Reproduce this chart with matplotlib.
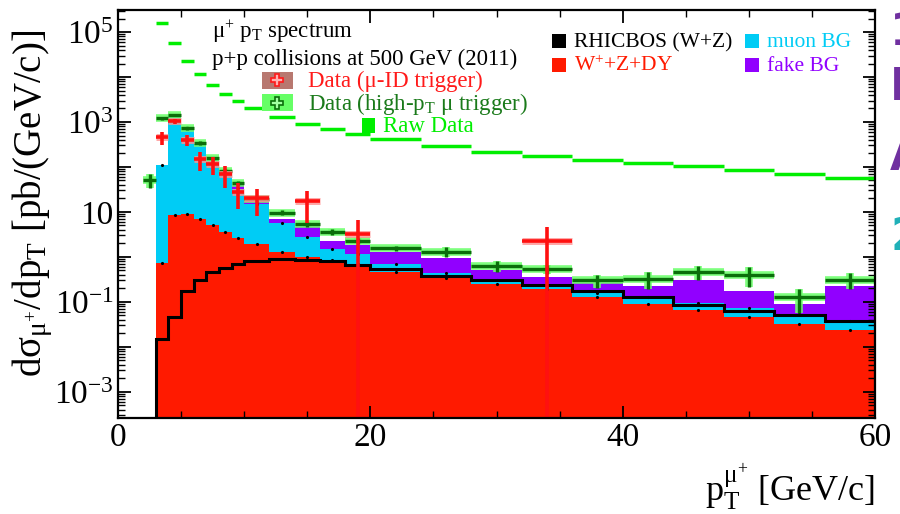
import numpy as np
import matplotlib
matplotlib.use("Agg")
import matplotlib.pyplot as plt
from matplotlib.patches import Rectangle
from matplotlib.lines import Line2D
from matplotlib.ticker import LogLocator, MultipleLocator, NullFormatter, FixedLocator

plt.rcParams["font.family"] = ["Liberation Serif", "DejaVu Serif"]
plt.rcParams["mathtext.fontset"] = "custom"
plt.rcParams["mathtext.rm"] = "Liberation Serif"
plt.rcParams["mathtext.it"] = "Liberation Serif:italic"
plt.rcParams["mathtext.bf"] = "Liberation Serif:bold"
plt.rcParams["mathtext.default"] = "rm"

# Histogram bin edges (GeV/c)
edges = [3, 4, 5, 6, 7, 8, 9, 10, 12, 14, 16, 18, 20, 24, 28, 32, 36, 40, 44, 48, 52, 56, 60]

# Stack levels (cumulative tops): W+Z+DY, +muon BG, +fake BG
wzdy = [0.74, 8.5, 9.1, 6.9, 5.0, 3.5, 2.6, 1.9, 1.25, 1.0, 0.85, 0.69, 0.47, 0.34,
        0.25, 0.19, 0.13, 0.091, 0.065, 0.047, 0.032, 0.023]
wzdy_muon = [110, 1450, 760, 350, 160, 83, 33, 15, 5.8, 2.7, 1.5, 1.15, 0.69, 0.44,
             0.31, 0.22, 0.16, 0.13, 0.093, 0.074, 0.053, 0.038]
wzdy_muon_fake = [110, 1450, 760, 350, 160, 83, 39, 20, 6.9, 4.5, 2.3, 1.8, 1.3, 0.93,
                  0.50, 0.35, 0.26, 0.23, 0.31, 0.17, 0.091, 0.23]
rhicbos = [0.015, 0.047, 0.17, 0.31, 0.46, 0.56, 0.69, 0.81, 0.89, 0.85, 0.81, 0.66,
           0.54, 0.38, 0.31, 0.24, 0.17, 0.126, 0.083, 0.064, 0.051, 0.037]
raw_data = [1.6e5, 5.6e4, 2.3e4, 1.15e4, 6.5e3, 4.1e3, 2.9e3, 2.0e3, 1.27e3, 890, 690,
            535, 415, 295, 218, 178, 141, 123, 105, 85, 69, 56]

# Data, high-pT muon trigger
hipt_edges = [2] + edges
hipt_val = [51, 1200, 1440, 720, 345, 155, 81, 44, 19.5, 9.6, 5.4, 3.6, 2.3, 1.55, 1.3,
            0.63, 0.54, 0.30, 0.32, 0.47, 0.40, 0.126, 0.31]
hipt_err = [17, 90, 100, 60, 30, 14, 9, 5, 2.5, 1.2, 0.7, 0.5, 0.35, 0.23, 0.32, 0.16,
            0.13, 0.10, 0.13, 0.16, 0.19, 0.07, 0.12]

# Data, muon-ID trigger
muid_lo = [3, 4, 5, 6, 7, 8, 9, 10, 14, 18, 32]
muid_hi = [4, 5, 6, 7, 8, 9, 10, 12, 16, 20, 36]
muid_val = [460, 1040, 400, 150, 115, 69, 27.5, 20, 17.5, 3.2, 2.2]
muid_err = [145, 150, 115, 70, 50, 35, 16, 12, 11.7, 3.4, 2.3]

C_RED = "#ff1a00"
C_CYAN = "#00ccf5"
C_PURPLE = "#9100ff"
C_DKGREEN = "#0a6e0a"
C_LTGREEN = "#70ff70"
C_RAW = "#00ee00"

W, H = 900, 514
fig = plt.figure(figsize=(9, 5.14), dpi=100)
ax = fig.add_axes([118 / W, 1 - 418 / H, 757 / W, 408 / H])

ymin, ymax = 2.6e-4, 3.1e5
base = 1e-6
ax.stairs(wzdy_muon_fake, edges, fill=True, color=C_PURPLE, baseline=base, lw=0)
ax.stairs(wzdy_muon, edges, fill=True, color=C_CYAN, baseline=base, lw=0)
ax.stairs(wzdy, edges, fill=True, color=C_RED, baseline=base, lw=0)

centers = 0.5 * (np.array(edges[:-1]) + np.array(edges[1:]))
ax.plot(centers, wzdy, "k.", ms=2.5)
ax.plot(centers, wzdy_muon, "k.", ms=2.5)

ax.stairs(rhicbos, edges, baseline=base, color="black", lw=2.2)

# raw data: horizontal bars
ax.hlines(raw_data, edges[:-1], edges[1:], color=C_RAW, lw=2.5)

# high-pT trigger data
he = np.array(hipt_edges, dtype=float)
hx = 0.5 * (he[:-1] + he[1:])
hw = 0.5 * (he[1:] - he[:-1])
ax.errorbar(hx, hipt_val, xerr=hw, yerr=hipt_err, fmt="none", ecolor=C_LTGREEN,
            elinewidth=5.5, capsize=0, alpha=0.9)
ax.errorbar(hx, hipt_val, xerr=hw, yerr=hipt_err, fmt="none", ecolor=C_DKGREEN,
            elinewidth=2.4, capsize=0)

# muon-ID trigger data
lo = np.array(muid_lo, dtype=float)
hi = np.array(muid_hi, dtype=float)
mx = 0.5 * (lo + hi)
ax.errorbar(mx, muid_val, xerr=0.5 * (hi - lo), fmt="none",
            ecolor="#ff9090", elinewidth=5, capsize=0, alpha=0.8)
ax.errorbar(mx, muid_val, xerr=0.5 * (hi - lo), yerr=muid_err, fmt="none",
            ecolor="#ff1010", elinewidth=2.6, capsize=0)

ax.set_yscale("log")
ax.set_xlim(0, 60)
ax.set_ylim(ymin, ymax)

ax.xaxis.set_major_locator(MultipleLocator(20))
ax.xaxis.set_minor_locator(MultipleLocator(5))
yt = [1e-3, 1e-2, 1e-1, 1, 10, 1e2, 1e3, 1e4, 1e5]
ax.yaxis.set_major_locator(FixedLocator(yt))
ax.set_yticklabels(["$10^{-3}$", "", "$10^{-1}$", "", "10", "", "$10^{3}$", "", "$10^{5}$"])
ax.yaxis.set_minor_locator(LogLocator(base=10, subs=np.arange(2, 10), numticks=100))
ax.yaxis.set_minor_formatter(NullFormatter())

ax.tick_params(which="both", direction="in", top=True, right=True, labelsize=24)
ax.tick_params(which="major", length=9, width=1.3)
ax.tick_params(which="minor", length=5, width=1.0)
ax.tick_params(axis="y", pad=3)
ax.tick_params(axis="x", pad=3)
for s in ax.spines.values():
    s.set_linewidth(1.6)

ax.set_ylabel("dσ$_{\\mathrm{μ}^{+}}$/dp$_{\\mathrm{T}}$ [pb/(GeV/c)]", fontsize=28)
ax.yaxis.set_label_coords(-0.083, 0.525)
ax.set_xlabel("p$_{\\mathrm{T}}^{\\mathrm{μ}^{+}}$ [GeV/c]", fontsize=26, loc="right")
ax.xaxis.set_label_coords(1.0, -0.105)


def px(x, y):
    return x / W, 1 - y / H


# upper-left legend
fig.text(*px(212, 38), "μ$^{+}$ p$_{\\mathrm{T}}$ spectrum", fontsize=16.5, va="baseline")
fig.text(*px(212, 65), "p+p collisions at 500 GeV (2011)", fontsize=16.5, va="baseline")
fig.text(*px(308, 87), "Data (μ-ID trigger)", fontsize=16.5, va="baseline", color="#ff1a1a")
fig.text(*px(308, 110), "Data (high-p$_{\\mathrm{T}}$ μ trigger)", fontsize=16.5,
         va="baseline", color="#1a7a1a")
fig.text(*px(383, 132), "Raw Data", fontsize=16.5, va="baseline", color=C_RAW)

fig.add_artist(Rectangle(px(262, 89), 31 / W, 17 / H, transform=fig.transFigure,
                         facecolor="#b87870", edgecolor="none"))
fig.add_artist(Line2D([px(277, 80)[0]], [px(277, 80)[1]], marker="P", ms=9,
                      mfc="#ffb0b0", mec="#ff1a1a", mew=1.2, transform=fig.transFigure))
fig.add_artist(Rectangle(px(262, 111), 31 / W, 17 / H, transform=fig.transFigure,
                         facecolor="#66ff66", edgecolor="none"))
fig.add_artist(Line2D([px(277, 103)[0]], [px(277, 103)[1]], marker="P", ms=9,
                      mfc="#a0ffa0", mec=C_DKGREEN, mew=1.2, transform=fig.transFigure))
fig.add_artist(Rectangle(px(362, 133), 13 / W, 15 / H, transform=fig.transFigure,
                         facecolor=C_RAW, edgecolor="none"))

# upper-right legend
for (x0, y0, col, label) in [(552, 48, "black", "RHICBOS (W+Z)"),
                             (552, 72, C_RED, "W$^{+}$+Z+DY"),
                             (745, 48, C_CYAN, "muon BG"),
                             (745, 72, C_PURPLE, "fake BG")]:
    fig.add_artist(Rectangle(px(x0, y0), 14 / W, 14 / H, transform=fig.transFigure,
                             facecolor=col, edgecolor="none"))
    fig.text(*px(x0 + 22, y0 - 1), label, fontsize=15.5, va="baseline", color=col)

# cut-off glyphs of the neighbouring slide at the right edge
for (yy, ch, col) in [(45, "1", "#7030a0"), (100, "E", "#7030a0"),
                      (170, "A", "#7030a0"), (250, "2", "#20b0b8")]:
    fig.text(*px(890, yy), ch, fontsize=32, fontweight="bold", color=col,
             family="DejaVu Sans", va="baseline")

fig.savefig("out.png", dpi=100)
